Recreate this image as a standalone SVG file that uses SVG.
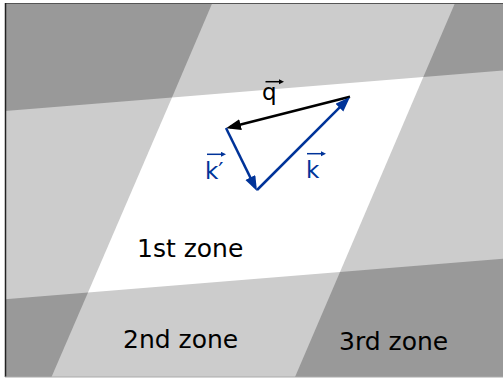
<svg xmlns="http://www.w3.org/2000/svg" width="503" height="378" viewBox="0 0 503 378">
  <style>
    .dark { fill: #999999; }
    .light { fill: #cccccc; }
    .zone { font-family: "DejaVu Sans", Verdana, sans-serif; font-size: 25px; fill: #000000; }
    .vec { font-family: "DejaVu Sans", Verdana, sans-serif; font-size: 23px; }
    .blue { fill: #003399; }
    .blk { fill: #000000; }
  </style>
  <defs>
    <marker id="headBlack" markerUnits="userSpaceOnUse" markerWidth="16" markerHeight="12" refX="11" refY="5.5" orient="auto">
      <path d="M0,0 L15,5.5 L0,11 z" fill="#000000"/>
    </marker>
    <marker id="headBlue" markerUnits="userSpaceOnUse" markerWidth="16" markerHeight="12" refX="11" refY="5.5" orient="auto">
      <path d="M0,0 L15,5.5 L0,11 z" fill="#003399"/>
    </marker>
    <marker id="smallBlack" markerUnits="userSpaceOnUse" markerWidth="6" markerHeight="6" refX="2" refY="2.5" orient="auto">
      <path d="M0,0 L5,2.5 L0,5 z" fill="#000000"/>
    </marker>
    <marker id="smallBlue" markerUnits="userSpaceOnUse" markerWidth="6" markerHeight="6" refX="2" refY="2.5" orient="auto">
      <path d="M0,0 L5,2.5 L0,5 z" fill="#003399"/>
    </marker>
  </defs>

  <rect x="0" y="0" width="503" height="378" fill="#ffffff"/>

  <g id="zones">
    <rect class="light" x="5" y="3" width="498" height="374"/>
    <polygon class="dark" points="5,3 212.3,3 172,97.4 5,111"/>
    <polygon class="dark" points="455,3 503,3 503,70.4 423.3,77"/>
    <polygon class="dark" points="5,299.3 88,292.5 51.5,377 5,377"/>
    <polygon class="dark" points="340,272 503,258.7 503,377 295,377"/>
    <polygon fill="#ffffff" points="172,97.4 423.3,77 340,272 88,292.5"/>
  </g>

  <g id="frame">
    <line x1="5" y1="3.5" x2="503" y2="3.5" stroke="#555555" stroke-width="1"/>
    <line x1="5.5" y1="3" x2="5.5" y2="377" stroke="#222222" stroke-width="1.5"/>
    <line x1="5" y1="377" x2="503" y2="377" stroke="#aaaaaa" stroke-width="1"/>
  </g>

  <g id="connectors">
    <line id="q-arrow" x1="350" y1="96.7" x2="229.9" y2="127.3" stroke="#000000" stroke-width="2.5" marker-end="url(#headBlack)"/>
    <line id="k-arrow" x1="257" y1="190" x2="347.2" y2="99.8" stroke="#003399" stroke-width="2.5" marker-end="url(#headBlue)"/>
    <line id="kp-arrow" x1="226" y1="128" x2="255.2" y2="187.4" stroke="#003399" stroke-width="2.5" marker-end="url(#headBlue)"/>
  </g>

  <g id="label-q">
    <text class="vec blk" x="262" y="100">q</text>
    <line x1="265.5" y1="81.7" x2="281" y2="81.7" stroke="#000000" stroke-width="1.5" marker-end="url(#smallBlack)"/>
  </g>
  <g id="label-k">
    <text class="vec blue" x="306" y="178">k</text>
    <line x1="307" y1="153.7" x2="323" y2="153.7" stroke="#003399" stroke-width="1.5" marker-end="url(#smallBlue)"/>
  </g>
  <g id="label-kprime">
    <text class="vec blue" x="205" y="179">k′</text>
    <line x1="207" y1="154.3" x2="223" y2="154.3" stroke="#003399" stroke-width="1.5" marker-end="url(#smallBlue)"/>
  </g>

  <g id="zone1"><text class="zone" x="137" y="256.5">1st zone</text></g>
  <g id="zone2"><text class="zone" x="123" y="347.5">2nd zone</text></g>
  <g id="zone3"><text class="zone" x="339" y="350">3rd zone</text></g>
</svg>
